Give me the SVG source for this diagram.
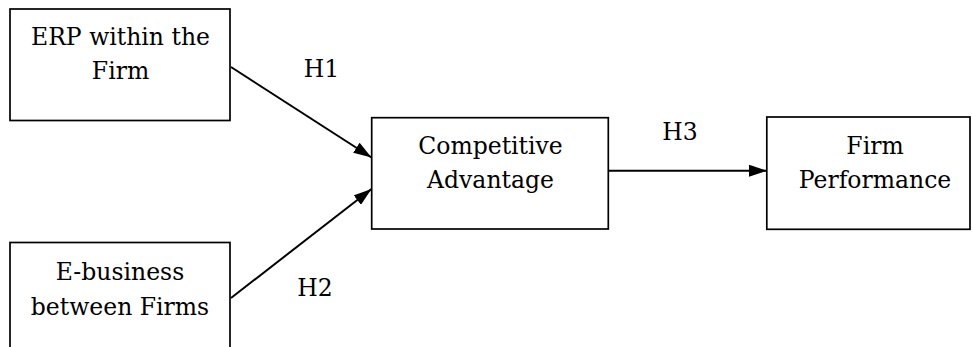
<svg xmlns="http://www.w3.org/2000/svg" width="972" height="347" viewBox="0 0 972 347">
<style>
.box{fill:#fff;stroke:#000;stroke-width:1.7}
.lbl{font-family:"DejaVu Serif","Liberation Serif",serif;font-size:23.5px;fill:#000;text-anchor:middle}
.conn{stroke:#000;stroke-width:2;fill:none}
</style>
<defs>
<marker id="ah" viewBox="0 0 18 12" refX="18" refY="6" markerWidth="18" markerHeight="12" markerUnits="userSpaceOnUse" orient="auto">
<path d="M0,0 L18,6 L0,12 z" fill="#000"/>
</marker>
</defs>
<rect width="972" height="347" fill="#fff"/>
<g id="connectors">
<line class="conn" x1="231" y1="67" x2="371.5" y2="157.5" marker-end="url(#ah)"/>
<line class="conn" x1="231" y1="298" x2="371.5" y2="189" marker-end="url(#ah)"/>
<line class="conn" x1="608.5" y1="170.7" x2="767" y2="170.7" marker-end="url(#ah)"/>
<text class="lbl" x="321.5" y="77">H1</text>
<text class="lbl" x="315" y="296">H2</text>
<text class="lbl" x="680" y="140">H3</text>
</g>
<g id="erp">
<rect class="box" x="10" y="9" width="220" height="111.5"/>
<text class="lbl" x="120.5" y="45">ERP within the</text>
<text class="lbl" x="120.5" y="79">Firm</text>
</g>
<g id="ebusiness">
<rect class="box" x="10" y="242.5" width="220" height="120"/>
<text class="lbl" x="120" y="280">E-business</text>
<text class="lbl" x="120" y="315">between Firms</text>
</g>
<g id="competitive">
<rect class="box" x="371.7" y="117.7" width="236.6" height="111.3"/>
<text class="lbl" x="490.5" y="154.3">Competitive</text>
<text class="lbl" x="490.5" y="187.7">Advantage</text>
</g>
<g id="performance">
<rect class="box" x="766.8" y="117" width="203.2" height="112.3"/>
<text class="lbl" x="875" y="154.3">Firm</text>
<text class="lbl" x="875" y="187.7">Performance</text>
</g>
</svg>
